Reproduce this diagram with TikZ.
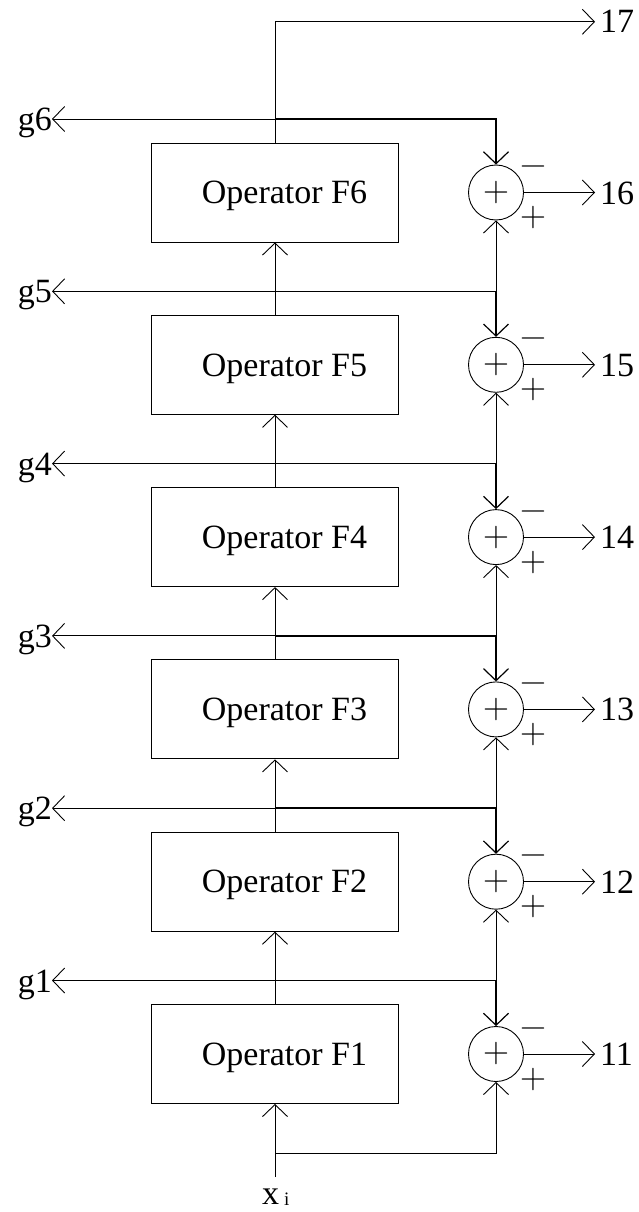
\documentclass[tikz,border=0pt]{standalone}
\usepackage{fontspec}
\setmainfont{Liberation Serif}
\newfontfamily\signfont{Latin Modern Roman}
\usetikzlibrary{arrows.meta,calc}
\begin{document}
\begin{tikzpicture}[x=1pt,y=-1pt,
  thinline/.style={line width=0.9pt},
  arr/.style={thinline,-{Straight Barb[length=12pt,width=25pt,line width=0.9pt]}},
  thickarr/.style={line width=1.5pt,-{Straight Barb[length=12pt,width=25pt,line width=1.2pt]}},
  opbox/.style={draw,thinline,rectangle,minimum width=247pt,minimum height=99pt,inner sep=0pt,text height=22.5pt,text depth=-4pt,font=\fontsize{34}{40}\selectfont},
  adder/.style={draw,thinline,circle,minimum size=55pt,inner sep=0pt,font=\signfont\fontsize{36}{36}\selectfont},
  sign/.style={inner sep=0pt,anchor=base,font=\signfont\fontsize{36}{36}\selectfont},
  lbl/.style={inner sep=0pt,font=\fontsize{34}{40}\selectfont},
]
\useasboundingbox (0,0) rectangle (639,1212);
\foreach \k in {1,...,6}{
  \pgfmathsetmacro\ty{143+172.3*(6-\k)}
  \pgfmathsetmacro\cy{\ty+49.5}
  \pgfmathsetmacro\gy{\ty-24}
  \node[opbox] (F\k) at (275,\cy) {\hspace*{19pt}Operator F\k};
  \node[adder] (A\k) at (496,\cy) {+};
  \node[sign] (M\k) at (533,\cy-26+9) {−};
  \node[sign] (P\k) at (533,\cy+25+9) {+};
  \node[lbl,anchor=base east] (G\k) at (52,\gy+11.5) {g\k};
  \node[lbl,anchor=base west] (L\k) at (600,\cy+11.5) {1\k};
  \coordinate (J\k) at (275,\gy);
  \coordinate (C\k) at (496,\gy);
}
\node[lbl,anchor=base west] (L7) at (600,33) {17};
\node[lbl,anchor=base west] (X) at (262,1204) {x\hspace{5pt}\raisebox{-1.5pt}{\fontsize{19}{19}\selectfont i}};
\coordinate (in) at (275,1177);
\coordinate (J0) at (275,1153);
\foreach \k in {1,...,5}{
  \pgfmathtruncatemacro\nk{\k+1}
  \draw[arr] (F\k.north) -- (F\nk.south);
  \draw[arr] (C\k) -- (A\nk.south);
}
\foreach \k in {1,...,6}{
  \draw[arr] (J\k) -- (J\k -| G\k.east);
  \draw[thickarr] (J\k) -| (A\k.north);
  \draw[arr] (A\k.east) -- ([xshift=-5pt]L\k.west |- A\k.east);
}
\draw[arr] (F6.north) |- ([xshift=-5pt]L7.west);
\draw[arr] (in) -- (F1.south);
\draw[arr] (J0) -| (A1.south);
\end{tikzpicture}
\end{document}
